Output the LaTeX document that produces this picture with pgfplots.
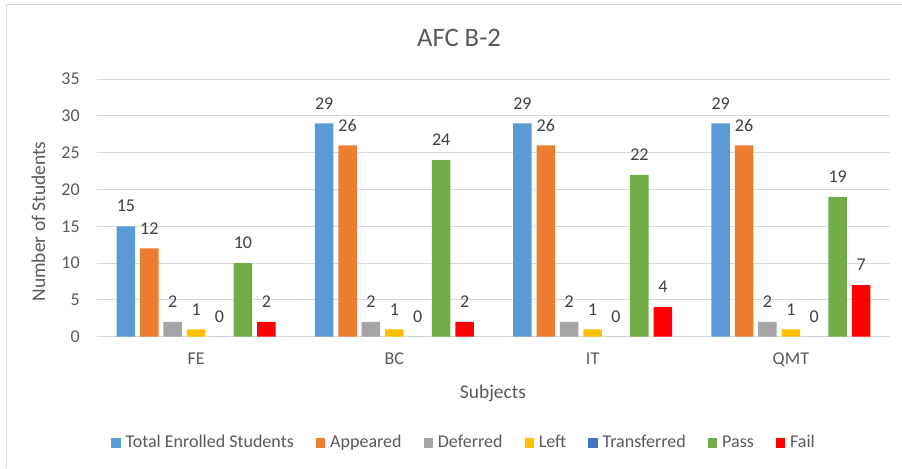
\documentclass[border=0pt]{standalone}
\usepackage{pgfplots}
\pgfplotsset{compat=1.18}
\usepackage{fontspec}
\setmainfont{Carlito}
\definecolor{cBlue}{HTML}{5B9BD5}
\definecolor{cOrange}{HTML}{ED7D31}
\definecolor{cGray}{HTML}{A5A5A5}
\definecolor{cYellow}{HTML}{FFC000}
\definecolor{cDBlue}{HTML}{4472C4}
\definecolor{cGreen}{HTML}{70AD47}
\definecolor{cRed}{HTML}{FF0000}
\definecolor{txtgray}{HTML}{595959}
\definecolor{lblgray}{HTML}{404040}
\definecolor{gridgray}{HTML}{D9D9D9}
\begin{document}
\begin{tikzpicture}
\path[use as bounding box] (0,0) rectangle (676.5pt,351pt);
\draw[gridgray, line width=0.75pt] (4.5pt,0) -- (4.5pt,347.25pt) -- (676.5pt,347.25pt);
\begin{axis}[
  at={(72.75pt,98.5pt)}, anchor=south west,
  scale only axis, width=594.75pt, height=193.1pt,
  ybar=3.675pt, bar width=13.875pt,
  xmin=-0.5, xmax=3.5, ymin=0, ymax=35,
  xtick={0,1,2,3}, xticklabels={FE,BC,IT,QMT},
  ytick={0,5,...,35},
  axis lines*=left, axis line style={draw=none},
  major tick length=0pt,
  ymajorgrids, grid style={gridgray, line width=0.75pt},
  /pgf/number format/assume math mode=true,
  tick label style={font=\fontsize{13.5}{16}\selectfont, text=txtgray, inner sep=0pt},
  yticklabel style={anchor=east, xshift=-12.75pt},
  xticklabel style={anchor=base, yshift=-20.5pt},
  nodes near coords,
  every node near coord/.append style={font=\fontsize{13.5}{16}\selectfont, text=lblgray, inner sep=0pt, yshift=10.5pt},
  legend columns=7,
  legend image code/.code={\fill[#1] (0pt,-3.4pt) rectangle (7pt,4.1pt);},
  legend style={draw=none, fill=none, inner sep=0pt, at={(0.01765,-0.414)}, anchor=west,
    nodes={inner sep=0pt, text=txtgray, font=\fontsize{13.5}{16}\selectfont, text height=9.6pt, text depth=3pt},
    /tikz/every odd column/.append style={column sep=3.75pt},
    /tikz/every even column/.append style={column sep=16.5pt}},
]
\addplot[fill=cBlue, draw=none] coordinates {(0,15) (1,29) (2,29) (3,29)};
\addlegendentry{Total Enrolled Students}
\addplot[fill=cOrange, draw=none] coordinates {(0,12) (1,26) (2,26) (3,26)};
\addlegendentry{Appeared}
\addplot[fill=cGray, draw=none] coordinates {(0,2) (1,2) (2,2) (3,2)};
\addlegendentry{Deferred}
\addplot[fill=cYellow, draw=none] coordinates {(0,1) (1,1) (2,1) (3,1)};
\addlegendentry{Left}
\addplot[fill=cDBlue, draw=none] coordinates {(0,0) (1,0) (2,0) (3,0)};
\addlegendentry{Transferred}
\addplot[fill=cGreen, draw=none] coordinates {(0,10) (1,24) (2,22) (3,19)};
\addlegendentry{Pass}
\addplot[fill=cRed, draw=none] coordinates {(0,2) (1,2) (2,4) (3,7)};
\addlegendentry{Fail}
\end{axis}
\node[font=\fontsize{20}{24}\selectfont, text=txtgray, anchor=base] at (344.25pt,316pt) {AFC B-2};
\node[font=\fontsize{14.6}{18}\selectfont, text=txtgray, anchor=base] at (369.75pt,52.5pt) {Subjects};
\node[font=\fontsize{14.6}{18}\selectfont, text=txtgray, anchor=base, rotate=90] at (33.75pt,184.9pt) {Number of Students};
\end{tikzpicture}
\end{document}
